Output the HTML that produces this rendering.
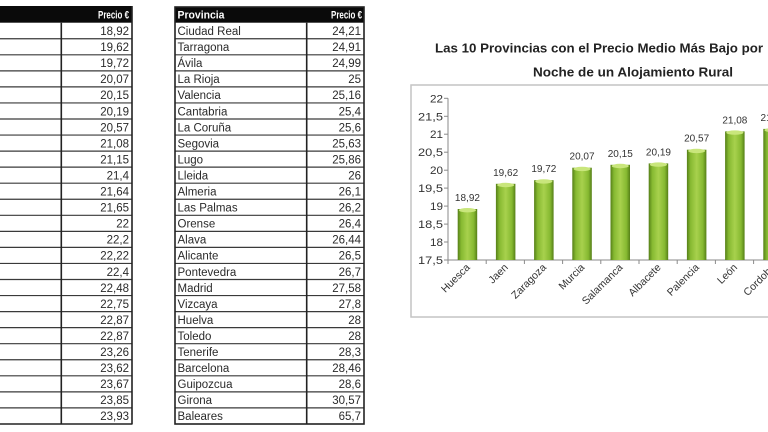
<!DOCTYPE html>
<html><head><meta charset="utf-8"><style>
html,body{margin:0;padding:0;background:#fff;width:768px;height:432px;overflow:hidden}
svg{display:block}
text{font-family:"Liberation Sans",sans-serif}
</style></head><body>
<svg width="768" height="432" viewBox="0 0 768 432" xmlns="http://www.w3.org/2000/svg">
<defs>
<linearGradient id="g" x1="0" y1="0" x2="1" y2="0">
<stop offset="0" stop-color="#557f17"/>
<stop offset="0.18" stop-color="#86b931"/>
<stop offset="0.5" stop-color="#a8d14d"/>
<stop offset="0.82" stop-color="#86b931"/>
<stop offset="1" stop-color="#557f17"/>
</linearGradient>
</defs>
<rect width="768" height="432" fill="#fff"/>

<!-- LEFT TABLE -->
<rect x="0" y="6" width="132" height="16.7" fill="#0a0a0a"/>
<text x="129" y="18.5" font-size="11" font-weight="bold" fill="#fff" text-anchor="end" textLength="31" lengthAdjust="spacingAndGlyphs">Precio €</text>
<g stroke="#3a3a3a" stroke-width="1.2">
<line x1="0" y1="38.75" x2="132" y2="38.75"/><line x1="0" y1="54.8" x2="132" y2="54.8"/><line x1="0" y1="70.85" x2="132" y2="70.85"/><line x1="0" y1="86.9" x2="132" y2="86.9"/><line x1="0" y1="102.95" x2="132" y2="102.95"/><line x1="0" y1="119" x2="132" y2="119"/><line x1="0" y1="135.05" x2="132" y2="135.05"/><line x1="0" y1="151.1" x2="132" y2="151.1"/><line x1="0" y1="167.15" x2="132" y2="167.15"/><line x1="0" y1="183.2" x2="132" y2="183.2"/><line x1="0" y1="199.25" x2="132" y2="199.25"/><line x1="0" y1="215.3" x2="132" y2="215.3"/><line x1="0" y1="231.35" x2="132" y2="231.35"/><line x1="0" y1="247.4" x2="132" y2="247.4"/><line x1="0" y1="263.45" x2="132" y2="263.45"/><line x1="0" y1="279.5" x2="132" y2="279.5"/><line x1="0" y1="295.55" x2="132" y2="295.55"/><line x1="0" y1="311.6" x2="132" y2="311.6"/><line x1="0" y1="327.65" x2="132" y2="327.65"/><line x1="0" y1="343.7" x2="132" y2="343.7"/><line x1="0" y1="359.75" x2="132" y2="359.75"/><line x1="0" y1="375.8" x2="132" y2="375.8"/><line x1="0" y1="391.85" x2="132" y2="391.85"/><line x1="0" y1="407.9" x2="132" y2="407.9"/>
</g>
<g stroke="#222" stroke-width="1.6" fill="none">
<line x1="0" y1="424" x2="132" y2="424"/>
<line x1="132" y1="6" x2="132" y2="424.5"/>
<line x1="61.3" y1="22.7" x2="61.3" y2="424"/>
</g>
<g font-size="11.5" fill="#2a2a2a" text-anchor="end">
<text x="129" y="35">18,92</text><text x="129" y="51.05">19,62</text><text x="129" y="67.1">19,72</text><text x="129" y="83.15">20,07</text><text x="129" y="99.2">20,15</text><text x="129" y="115.25">20,19</text><text x="129" y="131.3">20,57</text><text x="129" y="147.35">21,08</text><text x="129" y="163.4">21,15</text><text x="129" y="179.45">21,4</text><text x="129" y="195.5">21,64</text><text x="129" y="211.55">21,65</text><text x="129" y="227.6">22</text><text x="129" y="243.65">22,2</text><text x="129" y="259.7">22,22</text><text x="129" y="275.75">22,4</text><text x="129" y="291.8">22,48</text><text x="129" y="307.85">22,75</text><text x="129" y="323.9">22,87</text><text x="129" y="339.95">22,87</text><text x="129" y="356">23,26</text><text x="129" y="372.05">23,62</text><text x="129" y="388.1">23,67</text><text x="129" y="404.15">23,85</text><text x="129" y="420.2">23,93</text>
</g>

<!-- MIDDLE TABLE -->
<rect x="175" y="7" width="189" height="15.7" fill="#0a0a0a"/>
<text x="177.5" y="18.5" font-size="11" font-weight="bold" fill="#fff" textLength="47" lengthAdjust="spacingAndGlyphs">Provincia</text>
<text x="362" y="18.5" font-size="11" font-weight="bold" fill="#fff" text-anchor="end" textLength="31" lengthAdjust="spacingAndGlyphs">Precio €</text>
<g stroke="#3a3a3a" stroke-width="1.2">
<line x1="175" y1="38.75" x2="364" y2="38.75"/><line x1="175" y1="54.8" x2="364" y2="54.8"/><line x1="175" y1="70.85" x2="364" y2="70.85"/><line x1="175" y1="86.9" x2="364" y2="86.9"/><line x1="175" y1="102.95" x2="364" y2="102.95"/><line x1="175" y1="119" x2="364" y2="119"/><line x1="175" y1="135.05" x2="364" y2="135.05"/><line x1="175" y1="151.1" x2="364" y2="151.1"/><line x1="175" y1="167.15" x2="364" y2="167.15"/><line x1="175" y1="183.2" x2="364" y2="183.2"/><line x1="175" y1="199.25" x2="364" y2="199.25"/><line x1="175" y1="215.3" x2="364" y2="215.3"/><line x1="175" y1="231.35" x2="364" y2="231.35"/><line x1="175" y1="247.4" x2="364" y2="247.4"/><line x1="175" y1="263.45" x2="364" y2="263.45"/><line x1="175" y1="279.5" x2="364" y2="279.5"/><line x1="175" y1="295.55" x2="364" y2="295.55"/><line x1="175" y1="311.6" x2="364" y2="311.6"/><line x1="175" y1="327.65" x2="364" y2="327.65"/><line x1="175" y1="343.7" x2="364" y2="343.7"/><line x1="175" y1="359.75" x2="364" y2="359.75"/><line x1="175" y1="375.8" x2="364" y2="375.8"/><line x1="175" y1="391.85" x2="364" y2="391.85"/><line x1="175" y1="407.9" x2="364" y2="407.9"/>
</g>
<g stroke="#222" stroke-width="1.6" fill="none">
<rect x="175" y="7" width="189" height="417"/>
<line x1="306.7" y1="22.7" x2="306.7" y2="424"/>
</g>
<g font-size="11.5" fill="#2a2a2a">
<text x="177.5" y="35">Ciudad Real</text><text x="177.5" y="51.05">Tarragona</text><text x="177.5" y="67.1">Ávila</text><text x="177.5" y="83.15">La Rioja</text><text x="177.5" y="99.2">Valencia</text><text x="177.5" y="115.25">Cantabria</text><text x="177.5" y="131.3">La Coruña</text><text x="177.5" y="147.35">Segovia</text><text x="177.5" y="163.4">Lugo</text><text x="177.5" y="179.45">Lleida</text><text x="177.5" y="195.5">Almeria</text><text x="177.5" y="211.55">Las Palmas</text><text x="177.5" y="227.6">Orense</text><text x="177.5" y="243.65">Alava</text><text x="177.5" y="259.7">Alicante</text><text x="177.5" y="275.75">Pontevedra</text><text x="177.5" y="291.8">Madrid</text><text x="177.5" y="307.85">Vizcaya</text><text x="177.5" y="323.9">Huelva</text><text x="177.5" y="339.95">Toledo</text><text x="177.5" y="356">Tenerife</text><text x="177.5" y="372.05">Barcelona</text><text x="177.5" y="388.1">Guipozcua</text><text x="177.5" y="404.15">Girona</text><text x="177.5" y="420.2">Baleares</text>
</g>
<g font-size="11.5" fill="#2a2a2a" text-anchor="end">
<text x="361" y="35">24,21</text><text x="361" y="51.05">24,91</text><text x="361" y="67.1">24,99</text><text x="361" y="83.15">25</text><text x="361" y="99.2">25,16</text><text x="361" y="115.25">25,4</text><text x="361" y="131.3">25,6</text><text x="361" y="147.35">25,63</text><text x="361" y="163.4">25,86</text><text x="361" y="179.45">26</text><text x="361" y="195.5">26,1</text><text x="361" y="211.55">26,2</text><text x="361" y="227.6">26,4</text><text x="361" y="243.65">26,44</text><text x="361" y="259.7">26,5</text><text x="361" y="275.75">26,7</text><text x="361" y="291.8">27,58</text><text x="361" y="307.85">27,8</text><text x="361" y="323.9">28</text><text x="361" y="339.95">28</text><text x="361" y="356">28,3</text><text x="361" y="372.05">28,46</text><text x="361" y="388.1">28,6</text><text x="361" y="404.15">30,57</text><text x="361" y="420.2">65,7</text>
</g>

<!-- CHART TITLE -->
<text x="435" y="52.5" font-size="13" font-weight="bold" fill="#222" textLength="328" lengthAdjust="spacingAndGlyphs">Las 10 Provincias con el Precio Medio Más Bajo por</text>
<text x="533" y="76.5" font-size="13" font-weight="bold" fill="#222" textLength="200" lengthAdjust="spacingAndGlyphs">Noche de un Alojamiento Rural</text>

<!-- CHART BOX -->
<rect x="411" y="85" width="370" height="232" fill="none" stroke="#c4c4c4" stroke-width="1.5"/>

<!-- axes -->
<g stroke="#8a8a8a" stroke-width="1">
<line x1="448" y1="98.3" x2="448" y2="260"/>
<line x1="448" y1="260" x2="768" y2="260"/>
<line x1="444" y1="98.3" x2="448" y2="98.3"/><line x1="444" y1="116.3" x2="448" y2="116.3"/><line x1="444" y1="134.2" x2="448" y2="134.2"/><line x1="444" y1="152.2" x2="448" y2="152.2"/><line x1="444" y1="170.2" x2="448" y2="170.2"/><line x1="444" y1="188.1" x2="448" y2="188.1"/><line x1="444" y1="206.1" x2="448" y2="206.1"/><line x1="444" y1="224.1" x2="448" y2="224.1"/><line x1="444" y1="242" x2="448" y2="242"/><line x1="444" y1="260" x2="448" y2="260"/>
<line x1="448" y1="260" x2="448" y2="264"/><line x1="486.2" y1="260" x2="486.2" y2="264"/><line x1="524.4" y1="260" x2="524.4" y2="264"/><line x1="562.6" y1="260" x2="562.6" y2="264"/><line x1="600.8" y1="260" x2="600.8" y2="264"/><line x1="639" y1="260" x2="639" y2="264"/><line x1="677.2" y1="260" x2="677.2" y2="264"/><line x1="715.4" y1="260" x2="715.4" y2="264"/><line x1="753.6" y1="260" x2="753.6" y2="264"/>
</g>
<g font-size="11" fill="#333" text-anchor="end">
<text x="443" y="102.3" textLength="13" lengthAdjust="spacingAndGlyphs">22</text>
<text x="443" y="120.3" textLength="25" lengthAdjust="spacingAndGlyphs">21,5</text>
<text x="443" y="138.2" textLength="13" lengthAdjust="spacingAndGlyphs">21</text>
<text x="443" y="156.2" textLength="25" lengthAdjust="spacingAndGlyphs">20,5</text>
<text x="443" y="174.2" textLength="13" lengthAdjust="spacingAndGlyphs">20</text>
<text x="443" y="192.1" textLength="25" lengthAdjust="spacingAndGlyphs">19,5</text>
<text x="443" y="210.1" textLength="13" lengthAdjust="spacingAndGlyphs">19</text>
<text x="443" y="228.1" textLength="25" lengthAdjust="spacingAndGlyphs">18,5</text>
<text x="443" y="246" textLength="13" lengthAdjust="spacingAndGlyphs">18</text>
<text x="443" y="264" textLength="25" lengthAdjust="spacingAndGlyphs">17,5</text>
</g>

<!-- bars -->
<g>
<rect x="457.7" y="209" width="19.5" height="51" fill="url(#g)"/>
<rect x="495.9" y="183.8" width="19.5" height="76.2" fill="url(#g)"/>
<rect x="534.1" y="180.2" width="19.5" height="79.8" fill="url(#g)"/>
<rect x="572.3" y="167.7" width="19.5" height="92.3" fill="url(#g)"/>
<rect x="610.5" y="164.8" width="19.5" height="95.2" fill="url(#g)"/>
<rect x="648.7" y="163.4" width="19.5" height="96.6" fill="url(#g)"/>
<rect x="686.9" y="149.7" width="19.5" height="110.3" fill="url(#g)"/>
<rect x="725.1" y="131.4" width="19.5" height="128.6" fill="url(#g)"/>
<rect x="763.3" y="128.9" width="19.5" height="131.1" fill="url(#g)"/>
</g>
<g fill="#c9e67c">
<ellipse cx="467.45" cy="210.2" rx="8.5" ry="2.2"/>
<ellipse cx="505.65" cy="185" rx="8.5" ry="2.2"/>
<ellipse cx="543.85" cy="181.4" rx="8.5" ry="2.2"/>
<ellipse cx="582.05" cy="168.9" rx="8.5" ry="2.2"/>
<ellipse cx="620.25" cy="166" rx="8.5" ry="2.2"/>
<ellipse cx="658.45" cy="164.6" rx="8.5" ry="2.2"/>
<ellipse cx="696.65" cy="150.9" rx="8.5" ry="2.2"/>
<ellipse cx="734.85" cy="132.6" rx="8.5" ry="2.2"/>
<ellipse cx="773.05" cy="130.1" rx="8.5" ry="2.2"/>
</g>

<!-- value labels -->
<g font-size="10" fill="#333" text-anchor="middle">
<text x="467.45" y="201">18,92</text>
<text x="505.65" y="175.8">19,62</text>
<text x="543.85" y="172.2">19,72</text>
<text x="582.05" y="159.7">20,07</text>
<text x="620.25" y="156.8">20,15</text>
<text x="658.45" y="155.4">20,19</text>
<text x="696.65" y="141.7">20,57</text>
<text x="734.85" y="123.4">21,08</text>
<text x="773.05" y="120.9">21,15</text>
</g>

<!-- category labels -->
<g font-size="10.5" fill="#333" text-anchor="end">
<text transform="translate(470.5,268) rotate(-45)">Huesca</text>
<text transform="translate(508.7,268) rotate(-45)">Jaen</text>
<text transform="translate(546.9,268) rotate(-45)">Zaragoza</text>
<text transform="translate(585.1,268) rotate(-45)">Murcia</text>
<text transform="translate(623.3,268) rotate(-45)">Salamanca</text>
<text transform="translate(661.5,268) rotate(-45)">Albacete</text>
<text transform="translate(699.7,268) rotate(-45)">Palencia</text>
<text transform="translate(737.9,268) rotate(-45)">León</text>
<text transform="translate(776.1,268) rotate(-45)">Cordoba</text>
</g>
</svg>
</body></html>
